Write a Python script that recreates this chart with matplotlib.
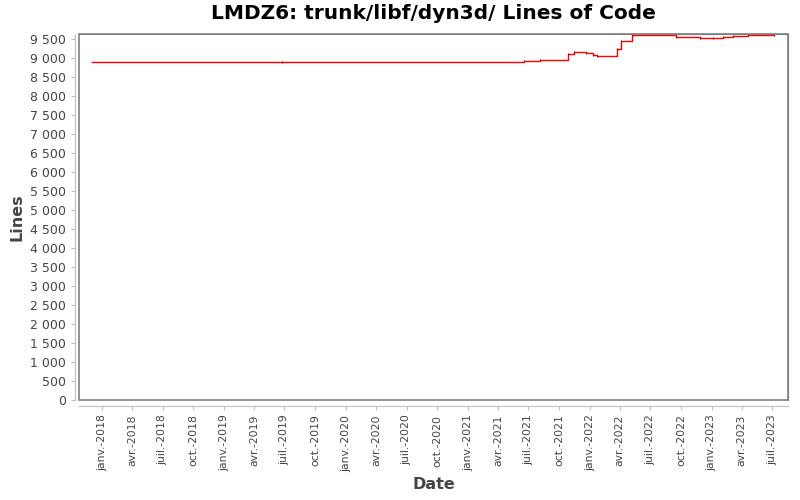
import numpy as np
import matplotlib
matplotlib.use("Agg")
import matplotlib.pyplot as plt
from matplotlib.ticker import FuncFormatter, MultipleLocator

# lines of code over time (step series)
dates = ["2017-12-02", "2019-06-23", "2021-06-18", "2021-08-05", "2021-10-28",
         "2021-11-15", "2021-12-21", "2022-01-11", "2022-01-23", "2022-03-24",
         "2022-04-05", "2022-05-08", "2022-09-17", "2022-11-28", "2023-01-06",
         "2023-02-04", "2023-03-06", "2023-04-20", "2023-07-07"]
lines = [8885, 8900, 8915, 8935, 9110,
         9145, 9120, 9065, 9040, 9225,
         9435, 9615, 9560, 9535, 9525,
         9555, 9575, 9600, 9600]

tick_dates = ["2018-01-01", "2018-04-01", "2018-07-01", "2018-10-01",
              "2019-01-01", "2019-04-01", "2019-07-01", "2019-10-01",
              "2020-01-01", "2020-04-01", "2020-07-01", "2020-10-01",
              "2021-01-01", "2021-04-01", "2021-07-01", "2021-10-01",
              "2022-01-01", "2022-04-01", "2022-07-01", "2022-10-01",
              "2023-01-01", "2023-04-01", "2023-07-01"]
mois = {1: "janv.", 4: "avr.", 7: "juil.", 10: "oct."}

x = np.array(dates, dtype="datetime64[D]")
ticks = np.array(tick_dates, dtype="datetime64[D]")
tick_labels = ["%s-%s" % (mois[int(str(t)[5:7])], str(t)[:4]) for t in ticks]

fig = plt.figure(figsize=(8, 5), dpi=100)
ax = fig.add_axes([0.099, 0.2, 0.886, 0.732])

ax.step(x, lines, where="post", color="#ff0000", lw=1.0)
ax.plot(x[1:], lines[1:], ls="none", marker="|", ms=2, color="#aa0000", mew=0.7)

ax.set_xlim(np.datetime64("2017-10-24"), np.datetime64("2023-08-18"))
ax.set_ylim(0, 9630)
ax.yaxis.set_major_locator(MultipleLocator(500))
ax.yaxis.set_major_formatter(FuncFormatter(lambda v, p: "{:,.0f}".format(v).replace(",", " ")))
ax.set_xticks(ticks)
ax.set_xticklabels(tick_labels)

gray = "#808080"
for s in ax.spines.values():
    s.set_color(gray)
ax.spines["left"].set_position(("outward", 3))
ax.spines["bottom"].set_position(("outward", 4))
ax.spines["left"].set_color("#c0c0c0")
ax.spines["bottom"].set_color("#c0c0c0")
# frame drawn as rectangle around data area
ax.add_patch(plt.Rectangle((0, 0), 1, 1, transform=ax.transAxes, fill=False,
                           ec=gray, lw=1.2, clip_on=False))
ax.tick_params(colors="#c0c0c0", labelcolor="#444444", labelsize=9, length=3)
ax.tick_params(axis="x", labelrotation=90, labelsize=7.8)

ax.set_xlabel("Date", fontsize=11.5, color="#444444", fontweight="bold")
ax.set_ylabel("Lines", fontsize=11.5, color="#444444", fontweight="bold")
ax.set_title("LMDZ6: trunk/libf/dyn3d/ Lines of Code", fontsize=14.5, fontweight="bold", pad=11)

fig.savefig("out.png", dpi=100)
